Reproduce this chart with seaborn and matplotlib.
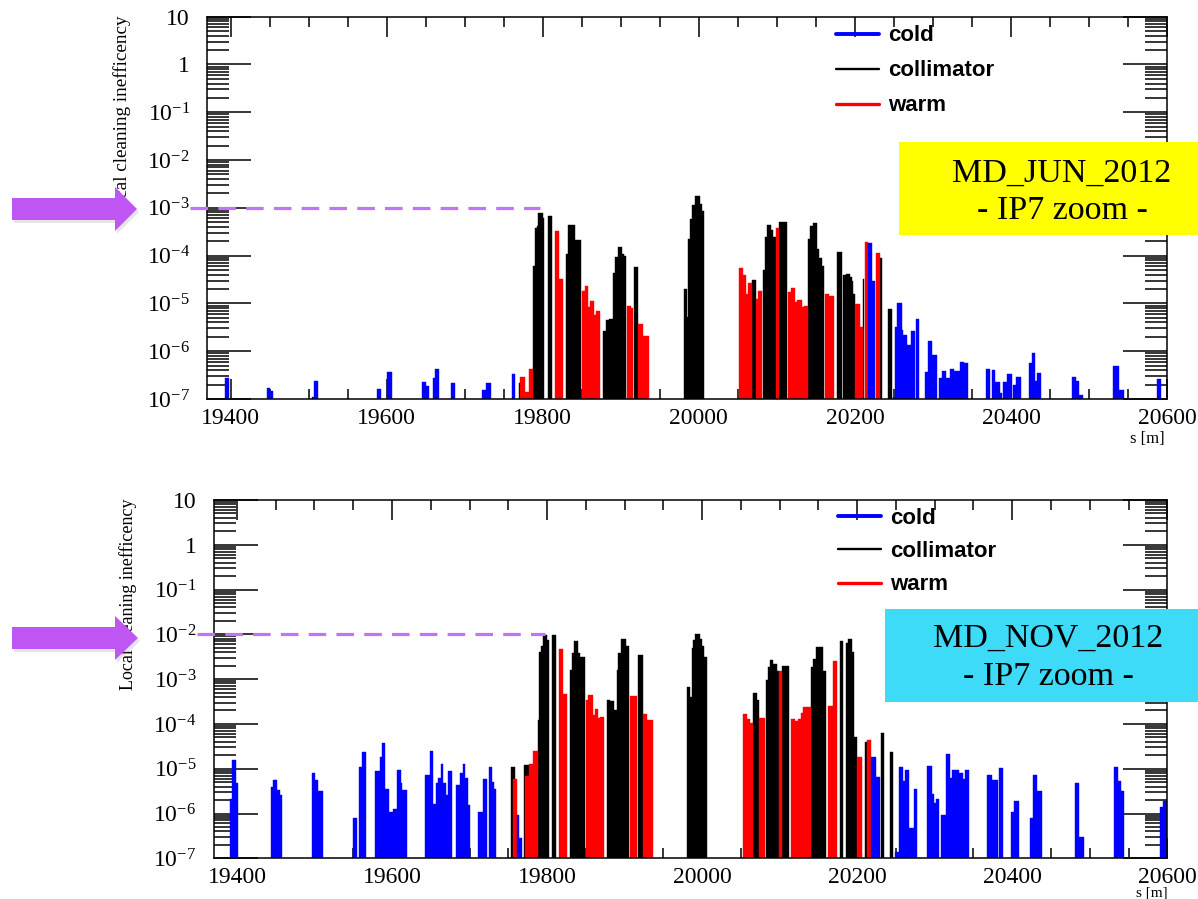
import numpy as np
import pandas as pd
import matplotlib
matplotlib.use("Agg")
import matplotlib.pyplot as plt
import seaborn as sns
from matplotlib.lines import Line2D
from matplotlib.patches import Polygon, Rectangle
from matplotlib.ticker import FixedLocator, FixedFormatter, LogLocator, NullFormatter, MultipleLocator

# ---------------------------------------------------------------------------
# Loss maps around IP7: each run is (bin edges in s [m], inefficiency per bin)
# ---------------------------------------------------------------------------
jun_cold = [
    ([19392.7, 19397.8], [2.7e-7]),
    ([19446.5, 19450.4, 19454.2], [1.7e-7, 1.45e-7]),
    ([19504.2, 19507.1, 19511.5], [1.12e-7, 2.4e-7]),
    ([19587.1, 19592.2], [1.6e-7]),
    ([19600.7, 19606.3], [3.6e-7]),
    ([19645.5, 19650.3, 19653.7], [2.3e-7, 1.9e-7]),
    ([19658.9, 19662.2, 19666.6], [2.7e-7, 4.3e-7]),
    ([19682.3, 19687.8], [2.2e-7]),
    ([19722.4, 19727.2, 19733.2], [1.55e-7, 2.2e-7]),
    ([19760.1, 19764.3], [3.3e-7]),
    ([20217.1, 20221.5, 20225.7], [1.86e-4, 2.9e-5]),
    ([20249.2, 20251.4, 20254.3, 20259.9, 20262.0, 20266.3, 20271.5, 20277.0],
     [1.1e-7, 3.2e-6, 1.0e-5, 2.8e-6, 2.2e-6, 1.35e-6, 2.6e-6]),
    ([20278.3, 20282.5], [4.7e-6]),
    ([20289.8, 20294.0, 20298.4, 20305.6], [3.7e-7, 1.6e-6, 8.3e-7]),
    ([20308.1, 20311.2, 20316.7, 20321.8, 20327.0, 20334.7, 20339.8, 20345.3],
     [2.7e-7, 3.9e-7, 2.7e-7, 4.3e-7, 3.9e-7, 6.0e-7, 5.6e-7]),
    ([20368.0, 20373.1], [4.2e-7]),
    ([20375.3, 20379.5, 20385.9, 20388.1], [4.1e-7, 2.3e-7, 1.35e-7]),
    ([20390.2, 20395.3, 20400.9], [2.3e-7, 3.3e-7]),
    ([20402.2, 20406.4, 20412.5], [1.95e-7, 2.95e-7]),
    ([20422.7, 20426.5, 20430.8, 20433.7, 20438.1], [5.6e-7, 9.1e-7, 2.4e-7, 3.5e-7]),
    ([20477.8, 20483.3, 20487.6, 20491.9], [2.9e-7, 2.4e-7, 1.23e-7]),
    ([20531.1, 20538.8, 20544.8], [4.8e-7, 1.55e-7]),
    ([20587.5, 20591.9], [2.6e-7]),
]

jun_warm = [
    ([19770.8, 19777.2, 19782.7, 19787.8], [2.9e-7, 1.4e-7, 4.3e-7]),
    ([19815.6, 19821.1, 19826.2], [3.3e-4, 3.2e-5]),
    ([19849.8, 19854.1, 19858.3, 19860.5, 19865.6, 19868.2, 19873.3],
     [1.8e-5, 2.3e-5, 8.5e-6, 1.15e-5, 5.75e-6, 6.9e-6]),
    ([19907.5, 19912.6, 19916.0], [8.9e-6, 7.9e-6]),
    ([19922.4, 19928.8, 19936.1], [3.7e-6, 2.1e-6]),
    ([20051.8, 20056.9, 20060.4, 20063.3, 20068.1], [5.6e-5, 4.0e-5, 1.6e-5, 2.7e-5]),
    ([20073.2, 20076.2, 20081.3], [1.23e-5, 1.8e-5]),
    ([20098.8, 20103.1], [3.7e-4]),
    ([20114.6, 20118.1, 20123.2, 20126.1, 20131.8, 20134.7, 20140.2],
     [1.7e-5, 2.1e-5, 1.05e-5, 1.17e-5, 8.5e-6, 8.9e-6]),
    ([20161.6, 20167.2, 20173.2], [1.6e-5, 1.45e-5]),
    ([20200.1, 20206.5, 20210.0], [9.8e-6, 3.2e-6]),
    ([20212.9, 20217.1], [1.95e-4]),
    ([20227.0, 20232.1], [1.12e-4]),
]

jun_coll = [
    ([19769.9, 19771.7], [2.2e-7]),
    ([19787.8, 19790.0, 19792.2, 19794.2, 19796.4, 19799.8, 19801.9],
     [6.2e-5, 3.7e-4, 4.2e-4, 7.8e-4, 7.8e-4, 6.0e-4]),
    ([19806.3, 19811.4], [6.8e-4]),
    ([19829.7, 19832.7, 19841.2, 19848.9], [1.1e-4, 4.4e-4, 2.1e-4]),
    ([19876.7, 19881.0, 19885.2, 19890.3, 19892.5, 19896.0, 19901.1, 19904.0, 19906.6],
     [2.6e-6, 4.5e-6, 4.7e-6, 4.3e-5, 9.3e-5, 1.5e-4, 1.1e-4, 1.0e-4]),
    ([19916.9, 19922.4], [5.75e-5]),
    ([19980.9, 19985.2, 19986.4, 19988.6, 19991.6, 19995.0, 20001.4, 20003.6, 20006.6],
     [2.0e-5, 5.2e-6, 2.2e-4, 5.75e-4, 1.15e-3, 1.8e-3, 1.2e-3, 8.7e-4]),
    ([20068.1, 20073.2], [3.1e-5]),
    ([20082.6, 20084.8, 20086.9, 20092.0, 20094.6, 20098.8],
     [5.0e-5, 2.5e-4, 4.4e-4, 3.5e-4, 2.4e-4]),
    ([20103.1, 20112.6], [5.1e-4]),
    ([20140.2, 20142.4, 20145.9, 20151.0, 20154.3, 20157.4, 20160.4],
     [2.2e-4, 4.2e-4, 4.8e-4, 1.4e-4, 8.9e-5, 6.2e-5]),
    ([20177.4, 20183.0], [1.2e-4]),
    ([20185.1, 20188.6, 20193.7, 20195.9, 20197.9, 20200.1],
     [4.0e-5, 4.1e-5, 3.6e-5, 2.9e-5, 1.6e-5]),
    ([20210.0, 20212.0], [3.2e-5]),
    ([20232.1, 20234.3], [8.9e-5]),
    ([20242.0, 20247.1], [7.6e-6]),
]

nov_cold = [
    ([19391.0, 19393.6, 19398.7, 19401.7], [2.1e-6, 1.6e-5, 4.8e-6]),
    ([19443.5, 19446.9, 19452.0, 19455.5, 19458.5], [3.9e-6, 5.6e-6, 3.4e-6, 2.6e-6]),
    ([19497.2, 19500.7, 19504.9, 19511.4], [7.9e-6, 5.6e-6, 3.2e-6]),
    ([19550.1, 19554.5], [7.8e-7]),
    ([19557.8, 19560.9, 19566.1], [1.07e-5, 2.4e-5]),
    ([19578.1, 19584.5, 19586.7, 19591.0, 19596.1, 19601.7, 19606.9, 19611.2, 19613.3, 19619.0],
     [8.7e-6, 1.86e-5, 3.7e-5, 3.5e-6, 1.1e-6, 1.23e-6, 9.3e-6, 4.8e-6, 3.4e-6]),
    ([19642.6, 19649.1, 19653.3, 19656.8, 19659.8, 19662.9, 19666.2, 19669.7, 19671.9, 19677.0],
     [7.2e-6, 2.5e-5, 1.6e-6, 4.8e-6, 6.2e-6, 1.3e-5, 4.8e-6, 2.6e-6, 8.7e-6]),
    ([19682.6, 19687.8, 19691.2, 19694.2, 19697.7, 19700.7],
     [4.4e-6, 7.9e-6, 1.26e-5, 6.3e-6, 1.55e-6]),
    ([19711.4, 19717.0, 19722.2], [1.1e-6, 5.75e-6]),
    ([19725.6, 19728.7, 19731.6, 19734.2], [1.12e-5, 5.1e-6, 3.6e-6]),
    ([19760.9, 19764.3, 19768.1], [9.3e-7, 2.8e-7]),
    ([20217.7, 20224.5, 20229.7], [1.86e-5, 6.6e-6]),
    ([20249.0, 20253.3, 20259.7, 20261.9, 20266.2, 20272.7, 20277.0],
     [1.4e-7, 1.12e-5, 5.4e-6, 9.3e-6, 4.7e-7, 3.6e-6]),
    ([20289.9, 20296.4, 20299.4, 20301.6, 20305.8], [1.15e-5, 2.75e-6, 1.7e-6, 2.1e-6]),
    ([20308.4, 20314.8, 20320.0, 20322.2, 20331.6, 20335.9, 20338.5, 20344.5],
     [9.3e-7, 2.1e-5, 6.2e-6, 9.3e-6, 8.1e-6, 5.75e-6, 9.3e-6]),
    ([20367.4, 20373.8, 20381.0], [7.2e-6, 5.6e-6]),
    ([20382.3, 20388.0], [1.02e-5]),
    ([20398.3, 20402.6, 20408.1], [1.1e-6, 1.86e-6]),
    ([20422.3, 20426.7, 20431.9, 20438.3], [8.1e-7, 7.1e-6, 3.2e-6]),
    ([20481.3, 20485.6, 20492.0], [4.8e-6, 3.0e-7]),
    ([20530.7, 20535.9, 20540.3, 20544.5], [1.12e-5, 5.4e-6, 3.2e-6]),
    ([20591.0, 20594.5, 20600.0], [1.4e-6, 1.95e-6]),
]

nov_warm = [
    ([19755.7, 19760.9], [5.9e-6]),
    ([19771.6, 19777.2, 19782.3, 19788.0], [6.9e-6, 1.26e-5, 2.5e-5]),
    ([19815.9, 19821.1, 19826.2], [4.7e-3, 4.7e-4]),
    ([19849.9, 19853.3, 19859.0, 19861.9, 19866.2, 19868.4, 19873.6],
     [3.5e-4, 4.5e-4, 1.6e-4, 2.2e-4, 1.35e-4, 1.45e-4]),
    ([19907.1, 19916.5], [4.1e-4]),
    ([19923.5, 19928.7, 19936.4], [1.66e-4, 1.23e-4]),
    ([20052.5, 20057.7, 20061.9, 20065.4], [1.66e-4, 1.3e-4, 1.07e-4]),
    ([20073.9, 20081.3], [1.35e-4]),
    ([20099.4, 20103.2], [1.5e-3]),
    ([20114.8, 20120.0, 20124.3, 20127.4, 20130.7, 20135.1, 20140.3],
     [1.3e-4, 1.17e-4, 1.3e-4, 1.8e-4, 2.35e-4, 2.4e-4]),
    ([20162.2, 20168.7, 20173.8], [2.5e-4, 2.6e-3]),
    ([20199.6, 20206.1], [1.8e-5]),
    ([20213.3, 20217.7], [4.3e-5]),
]

nov_coll = [
    ([19753.2, 19758.7], [1.12e-5]),
    ([19770.3, 19778.1], [1.2e-5]),
    ([19788.0, 19790.1, 19791.9, 19794.5, 19799.6, 19803.0],
     [1.23e-4, 4.1e-3, 5.4e-3, 9.8e-3, 7.4e-3]),
    ([19806.1, 19811.6], [9.8e-3]),
    ([19829.7, 19831.9, 19834.9, 19840.4, 19842.6, 19849.0],
     [1.6e-3, 3.9e-3, 7.2e-3, 3.8e-3, 3.2e-3]),
    ([19877.0, 19881.3, 19886.8, 19890.0, 19892.0, 19895.1, 19901.9, 19906.2],
     [3.5e-4, 3.2e-4, 2.0e-4, 1.6e-3, 3.8e-3, 7.8e-3, 5.4e-3]),
    ([19917.0, 19923.5], [3.5e-3]),
    ([19980.3, 19984.5, 19986.7, 19988.8, 19991.0, 19997.4, 19999.6, 20002.6, 20006.8],
     [6.6e-4, 4.0e-4, 4.9e-3, 7.4e-3, 1.02e-2, 7.8e-3, 5.4e-3, 3.2e-3]),
    ([20065.4, 20070.6, 20073.2], [5.0e-4, 3.5e-4]),
    ([20082.6, 20085.6, 20087.8, 20092.0, 20096.4, 20099.4],
     [9.5e-4, 1.9e-3, 2.7e-3, 2.2e-3, 1.5e-3]),
    ([20103.2, 20112.6], [1.95e-3]),
    ([20140.3, 20142.8, 20147.1, 20155.7, 20160.0], [1.9e-3, 2.75e-3, 5.1e-3, 1.5e-3]),
    ([20178.1, 20182.3], [7.2e-3]),
    ([20185.4, 20188.0, 20193.9, 20196.5, 20199.6], [6.3e-3, 7.8e-3, 4.1e-3, 5.2e-5]),
    ([20210.3, 20213.3], [4.0e-5]),
    ([20230.6, 20234.8], [6.2e-5]),
    ([20241.7, 20246.8], [2.35e-5]),
]

categories = ["cold", "collimator", "warm"]
panel_titles = ["MD_JUN_2012", "MD_NOV_2012"]
panel_subtitle = "- IP7 zoom -"
thresholds = [1e-3, 1e-2]

x_ticks = [19400, 19600, 19800, 20000, 20200, 20400, 20600]
x_tick_labels = ["19400", "19600", "19800", "20000", "20200", "20400", "20600"]
y_ticks = [1e-7, 1e-6, 1e-5, 1e-4, 1e-3, 1e-2, 1e-1, 1, 10]
y_tick_labels = [r"$\mathregular{10^{-7}}$", r"$\mathregular{10^{-6}}$", r"$\mathregular{10^{-5}}$",
                 r"$\mathregular{10^{-4}}$", r"$\mathregular{10^{-3}}$", r"$\mathregular{10^{-2}}$",
                 r"$\mathregular{10^{-1}}$", "1", "10"]
y_label = "Local cleaning inefficency"
x_label = "s [m]"

# ---------------------------------------------------------------------------
sns.set_theme(style="ticks")
plt.rcParams["font.family"] = ["Liberation Serif", "DejaVu Serif"]
plt.rcParams["mathtext.fontset"] = "custom"
plt.rcParams["mathtext.rm"] = "Liberation Serif"
plt.rcParams["mathtext.it"] = "Liberation Serif:italic"
plt.rcParams["axes.linewidth"] = 1.1
plt.rcParams["text.color"] = "black"
plt.rcParams["axes.labelcolor"] = "black"
plt.rcParams["xtick.color"] = "black"
plt.rcParams["ytick.color"] = "black"

colors = {"cold": "#0000ff", "collimator": "#000000", "warm": "#ff0000"}
W, H = 1198, 899
fig = plt.figure(figsize=(W / 100, H / 100), dpi=100)

# axes rectangles in pixels: left, top, right, bottom
boxes = [(207.3, 16.7, 1167.0, 399.0), (213.7, 500.0, 1167.3, 858.3)]
axes = []
for (l, t, r, b) in boxes:
    axes.append(fig.add_axes([l / W, 1 - b / H, (r - l) / W, (b - t) / H]))


def draw_losses(ax, runs, color):
    edges = np.unique(np.round(np.concatenate([np.asarray(e, float) for e, _ in runs]), 3))
    mids = np.concatenate([0.5 * (np.asarray(e[:-1]) + np.asarray(e[1:])) for e, _ in runs])
    vals = np.concatenate([np.asarray(v, float) for _, v in runs])
    df = pd.DataFrame({"s": mids, "ineff": vals})
    sns.histplot(data=df, x="s", weights="ineff", bins=edges.tolist(), ax=ax, element="bars",
                 fill=True, color=color, alpha=1, edgecolor=color, linewidth=0.3,
                 legend=False)


series = [
    {"cold": jun_cold, "collimator": jun_coll, "warm": jun_warm},
    {"cold": nov_cold, "collimator": nov_coll, "warm": nov_warm},
]

for i, ax in enumerate(axes):
    for cat in ["collimator", "warm", "cold"]:
        draw_losses(ax, series[i][cat], colors[cat])
    ax.set_yscale("log")
    ax.set_xlim(19370, 20600)
    ax.set_ylim(1e-7, 10)
    ax.xaxis.set_major_locator(FixedLocator(x_ticks))
    ax.xaxis.set_major_formatter(FixedFormatter(x_tick_labels))
    ax.xaxis.set_minor_locator(MultipleLocator(50))
    ax.yaxis.set_major_locator(FixedLocator(y_ticks))
    ax.yaxis.set_major_formatter(FixedFormatter(y_tick_labels))
    ax.yaxis.set_minor_locator(LogLocator(base=10, subs=np.arange(2, 10), numticks=30))
    ax.yaxis.set_minor_formatter(NullFormatter())
    ax.tick_params(axis="x", which="major", direction="in", length=14.5, width=1.1,
                   top=True, bottom=True, labelsize=17, pad=6.5, colors="black")
    ax.tick_params(axis="x", which="minor", direction="in", length=7, width=1.1,
                   top=True, bottom=True)
    ax.tick_params(axis="y", which="major", direction="in", length=31.5, width=1.1,
                   left=True, right=True, labelsize=17, pad=12.5, colors="black")
    ax.tick_params(axis="y", which="minor", direction="in", length=15.8, width=1.1,
                   left=True, right=True)
    for sp in ax.spines.values():
        sp.set_color("black")
        sp.set_linewidth(1.1)
        sp.set_visible(True)
    ax.set_ylabel("")
    ax.set_xlabel(x_label, loc="right", fontsize=[12, 11][i])
    ax.grid(False)

    # threshold marker
    ax.plot([19348, 19797], [thresholds[i], thresholds[i]], color="#c174f3", lw=2.3,
            dashes=(5.5, 3.2), clip_on=False, zorder=6, solid_capstyle="butt")

    handles = [Line2D([], [], color=colors["cold"], lw=2.8),
               Line2D([], [], color=colors["collimator"], lw=1.7),
               Line2D([], [], color=colors["warm"], lw=2.4)]
    anchor = [(0.6551, 0.977), (0.6547, 0.979)][i]
    ax.legend(handles, categories, loc="upper left", bbox_to_anchor=anchor, frameon=False,
              prop={"family": "Liberation Sans", "weight": "bold", "size": 16},
              labelcolor="black",
              handlelength=1.94, handletextpad=0.42, labelspacing=[0.63, 0.56][i],
              borderpad=0, borderaxespad=0)

axes[0].xaxis.set_label_coords(0.998, -0.085)
axes[1].xaxis.set_label_coords(1.0, -0.0775)

# rotated axis titles
fig.text(122 / W, 1 - 15 / H, y_label, rotation=90, ha="center", va="top", fontsize=13.8)
fig.text(128 / W, 1 - 498 / H, y_label, rotation=90, ha="center", va="top", fontsize=13)

# annotation layer in pixel coordinates
ov = fig.add_axes([0, 0, 1, 1], zorder=20)
ov.set_xlim(0, W)
ov.set_ylim(H, 0)
ov.axis("off")
ov.patch.set_alpha(0)

arrow_color = "#bf55f3"
for yc, tip in [(209, 137), (638, 138)]:
    pts = np.array([(12, yc - 11), (115, yc - 11), (115, yc - 22), (tip, yc),
                    (115, yc + 22), (115, yc + 11), (12, yc + 11)])
    ov.add_patch(Polygon(pts + [2, 3], closed=True, color="#808080", alpha=0.2, lw=0))
    ov.add_patch(Polygon(pts, closed=True, color=arrow_color, lw=0))

label_boxes = [((899, 142, 300, 93), "#ffff00", 1062, (182, 219)),
               ((885, 609, 313, 93), "#3ddbf7", 1048, (647, 685))]
for k, ((bx, by, bw, bh), fc, cx, (y1, y2)) in enumerate(label_boxes):
    ov.add_patch(Rectangle((bx, by), bw, bh, color=fc, lw=0))
    ov.text(cx, y1, panel_titles[k], ha="center", va="baseline", fontsize=24.5, color="black")
    ov.text(cx, y2, panel_subtitle, ha="center", va="baseline", fontsize=24.5, color="black")

fig.savefig("out.png", dpi=100)
